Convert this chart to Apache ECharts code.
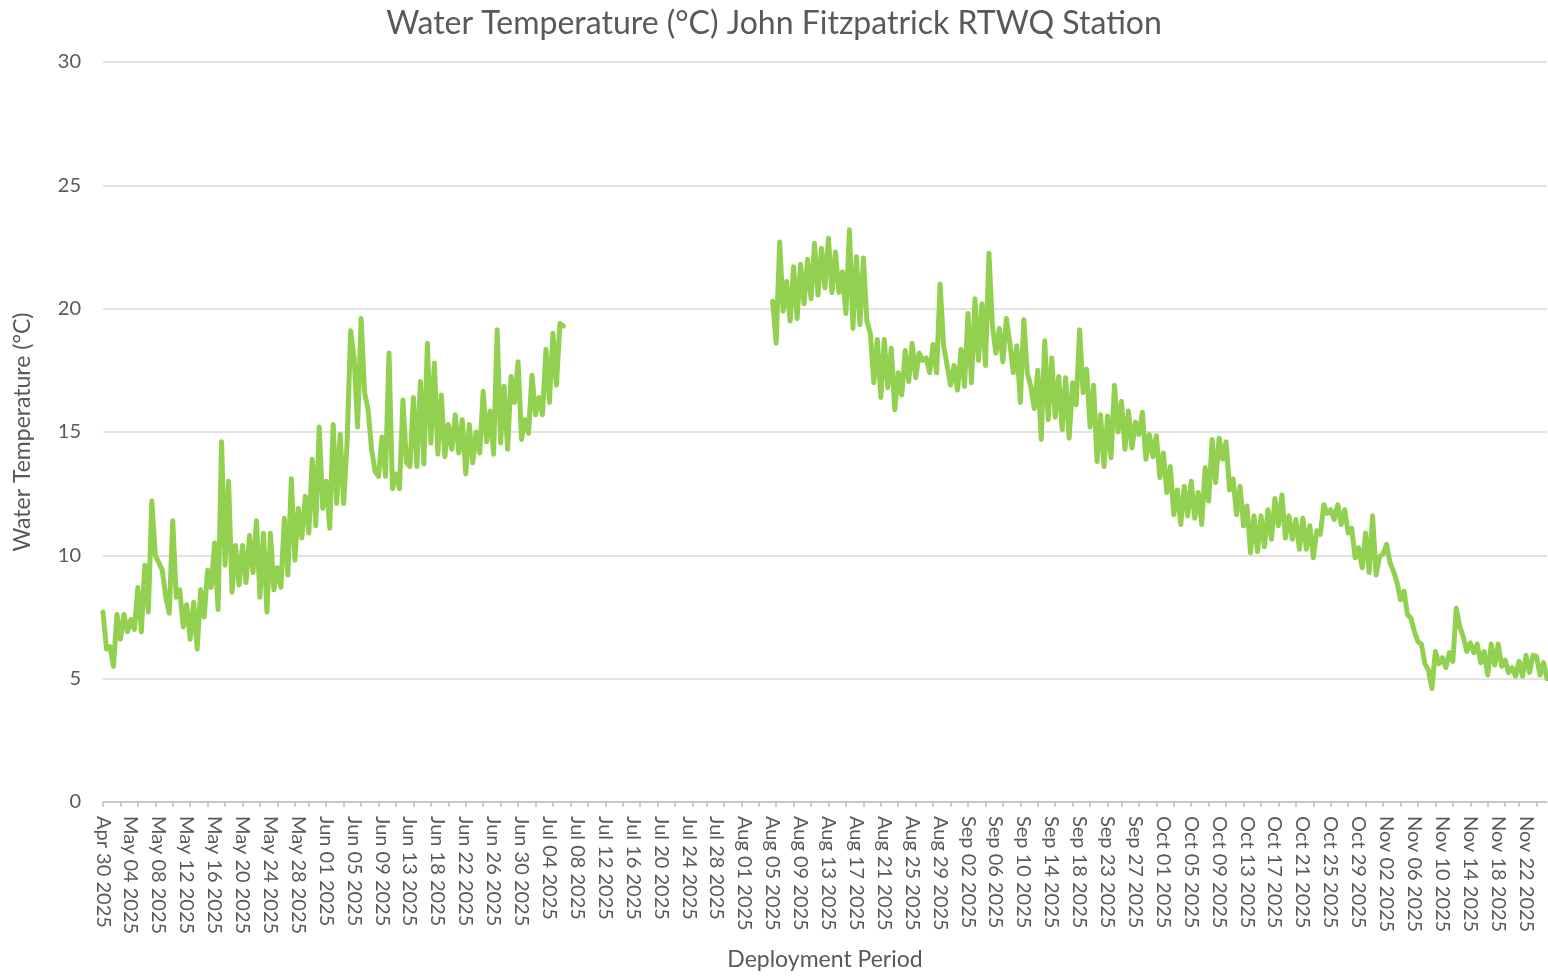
<!DOCTYPE html>
<html>
<head>
<meta charset="utf-8">
<script src="https://cdn.jsdelivr.net/npm/echarts@6/dist/echarts.min.js"></script>
<style>
  html, body { margin: 0; padding: 0; background: #fff; }
  #chart { width: 1548px; height: 976px; }
</style>
</head>
<body>
<div id="chart"></div>
<script>
// Tick labels shown on the category axis (one every 8 slots)
const tickLabels = [
  "Apr 30 2025","May 04 2025","May 08 2025","May 12 2025","May 16 2025","May 20 2025","May 24 2025","May 28 2025",
  "Jun 01 2025","Jun 05 2025","Jun 09 2025","Jun 13 2025","Jun 18 2025","Jun 22 2025","Jun 26 2025","Jun 30 2025",
  "Jul 04 2025","Jul 08 2025","Jul 12 2025","Jul 16 2025","Jul 20 2025","Jul 24 2025","Jul 28 2025",
  "Aug 01 2025","Aug 05 2025","Aug 09 2025","Aug 13 2025","Aug 17 2025","Aug 21 2025","Aug 25 2025","Aug 29 2025",
  "Sep 02 2025","Sep 06 2025","Sep 10 2025","Sep 14 2025","Sep 18 2025","Sep 23 2025","Sep 27 2025",
  "Oct 01 2025","Oct 05 2025","Oct 09 2025","Oct 13 2025","Oct 17 2025","Oct 21 2025","Oct 25 2025","Oct 29 2025",
  "Nov 02 2025","Nov 06 2025","Nov 10 2025","Nov 14 2025","Nov 18 2025","Nov 22 2025"
];
const slotsPerLabel = 8;
const trailingSlots = 6;

// Water temperature (°C), first deployment part (Apr 30 – Jul 06)
const tempSpring = [
  7.7,6.2,6.3,5.5,7.6,6.6,7.6,6.9,7.4,7.0,8.7,6.9,9.6,7.7,12.2,10.0,
  9.7,9.4,8.3,7.65,11.4,8.3,8.6,7.1,8.0,6.6,8.1,6.2,8.6,7.5,9.4,8.7,
  10.5,7.8,14.6,9.6,13.0,8.5,10.4,8.8,10.4,8.9,10.8,9.3,11.4,8.3,10.9,7.7,
  10.9,8.6,9.5,8.7,11.5,9.2,13.1,9.8,11.9,10.7,12.4,10.9,13.9,11.2,15.2,11.9,
  13.0,11.1,15.3,12.1,14.9,12.1,14.6,19.1,18.0,15.2,19.6,16.6,15.9,14.3,13.4,13.2,
  14.8,13.2,18.2,12.7,13.3,12.7,16.3,13.75,13.6,16.4,13.6,17.05,13.7,18.6,14.55,17.8,
  14.1,16.5,14.0,15.3,14.3,15.7,14.15,15.5,13.3,15.3,13.75,15.0,14.15,16.65,14.6,15.85,
  14.1,19.15,14.55,16.85,14.3,17.25,16.2,17.85,14.7,15.5,14.95,17.3,15.7,16.4,15.7,18.35,
  16.2,19.0,16.9,19.4,19.3
];
// Slots with no data (Jul 06 – Aug 05)
const gapSlots = 59;
// Water temperature (°C), second deployment part (Aug 05 – Nov 25)
const tempSummerFall = [
  20.3,18.6,22.7,19.9,21.1,19.5,21.7,19.6,21.8,20.2,22.0,20.4,22.65,20.55,22.45,20.85,
  22.85,20.65,22.3,20.65,21.5,19.8,23.2,19.2,22.1,19.35,22.05,19.5,19.0,17.0,18.75,16.4,
  18.75,16.8,18.4,15.9,17.4,16.5,18.3,17.05,18.6,17.2,18.2,17.9,18.0,17.4,18.55,17.4,
  21.0,18.5,17.7,16.9,17.7,16.7,18.35,16.85,19.8,17.0,20.4,17.9,20.2,17.7,22.25,19.3,
  18.2,19.2,17.85,19.6,18.6,17.4,18.5,16.2,19.55,17.4,16.85,15.95,17.5,14.7,18.7,15.5,
  18.0,15.6,17.25,15.1,17.2,14.75,17.0,16.1,19.15,16.6,17.55,15.2,16.9,13.8,15.7,13.6,
  15.65,13.95,16.9,15.0,16.25,14.3,15.85,14.35,15.4,14.9,15.8,13.9,14.9,14.0,14.85,13.15,
  14.15,12.55,13.6,11.65,12.65,11.25,12.8,11.6,13.0,11.5,12.55,11.25,13.55,12.2,14.7,12.95,
  14.75,13.9,14.6,12.65,13.1,11.65,12.8,11.2,12.0,10.1,11.6,10.15,11.6,10.35,11.85,10.65,
  12.3,11.2,12.45,10.7,11.6,10.65,11.45,10.25,11.5,10.25,11.2,9.9,11.0,10.85,12.05,11.7,
  11.85,11.45,12.05,11.25,11.85,10.9,11.1,9.9,10.3,9.5,10.9,9.3,11.6,9.2,9.95,10.05,
  10.45,9.7,9.35,8.9,8.2,8.55,7.6,7.45,6.9,6.5,6.4,5.6,5.35,4.6,6.1,5.6,
  5.85,5.45,6.05,5.7,7.85,7.1,6.7,6.1,6.45,6.05,6.4,5.65,6.1,5.15,6.4,5.55,
  6.4,5.5,5.75,5.25,5.45,5.1,5.7,5.1,5.95,5.25,5.95,5.9,5.15,5.65,5.0
];

// Build category slots: each tick label followed by unlabeled sub-slots
const categories = [];
tickLabels.forEach((lab, j) => {
  categories.push(lab);
  if (j < tickLabels.length - 1) {
    for (let k = 1; k < slotsPerLabel; k++) categories.push(lab + " +" + k);
  }
});
for (let k = 1; k <= trailingSlots; k++) categories.push(tickLabels[tickLabels.length - 1] + " +" + k);

const seriesData = tempSpring.concat(new Array(gapSlots).fill(null), tempSummerFall);

const tickStep = 4.957;
const FONT = 'Lato, "Open Sans", sans-serif';
const chart = echarts.init(document.getElementById('chart'), null, { renderer: 'canvas' });
chart.setOption({
  animation: false,
  backgroundColor: '#ffffff',
  title: {
    text: 'Water Temperature (°C) John Fitzpatrick RTWQ Station',
    left: 'center',
    top: 3,
    textStyle: { fontFamily: FONT, fontSize: 32, fontWeight: 'normal', color: '#595959' }
  },
  grid: { left: 103, right: 1, top: 62, bottom: 174, containLabel: false, outerBoundsMode: 'none' },
  xAxis: {
    type: 'category',
    data: categories,
    boundaryGap: false,
    name: 'Deployment Period',
    nameLocation: 'middle',
    nameGap: 146,
    nameTextStyle: { fontFamily: FONT, fontSize: 23, color: '#595959' },
    axisLine: { show: true, lineStyle: { color: '#bfbfbf', width: 1.5 } },
    axisTick: {
      show: true,
      length: 5,
      interval: function (idx) { const k = Math.round(idx / tickStep); return Math.round(k * tickStep) === idx; },
      lineStyle: { color: '#bfbfbf', width: 1.5 }
    },
    axisLabel: {
      interval: slotsPerLabel - 1,
      rotate: -90,
      margin: 14,
      fontFamily: FONT,
      fontSize: 20,
      color: '#595959'
    },
    splitLine: { show: false }
  },
  yAxis: {
    type: 'value',
    min: 0,
    max: 30,
    interval: 5,
    name: 'Water Temperature (°C)',
    nameLocation: 'middle',
    nameGap: 69,
    nameTextStyle: { fontFamily: FONT, fontSize: 23, color: '#595959' },
    axisLine: { show: false },
    axisTick: { show: false },
    axisLabel: { margin: 22, fontFamily: FONT, fontSize: 20, color: '#595959' },
    splitLine: { lineStyle: { color: '#d9d9d9', width: 1.5 } }
  },
  series: [{
    type: 'line',
    data: seriesData,
    showSymbol: false,
    connectNulls: false,
    lineStyle: { color: '#92d050', width: 5, cap: 'round', join: 'round' },
    itemStyle: { color: '#92d050' }
  }]
});
</script>
</body>
</html>
